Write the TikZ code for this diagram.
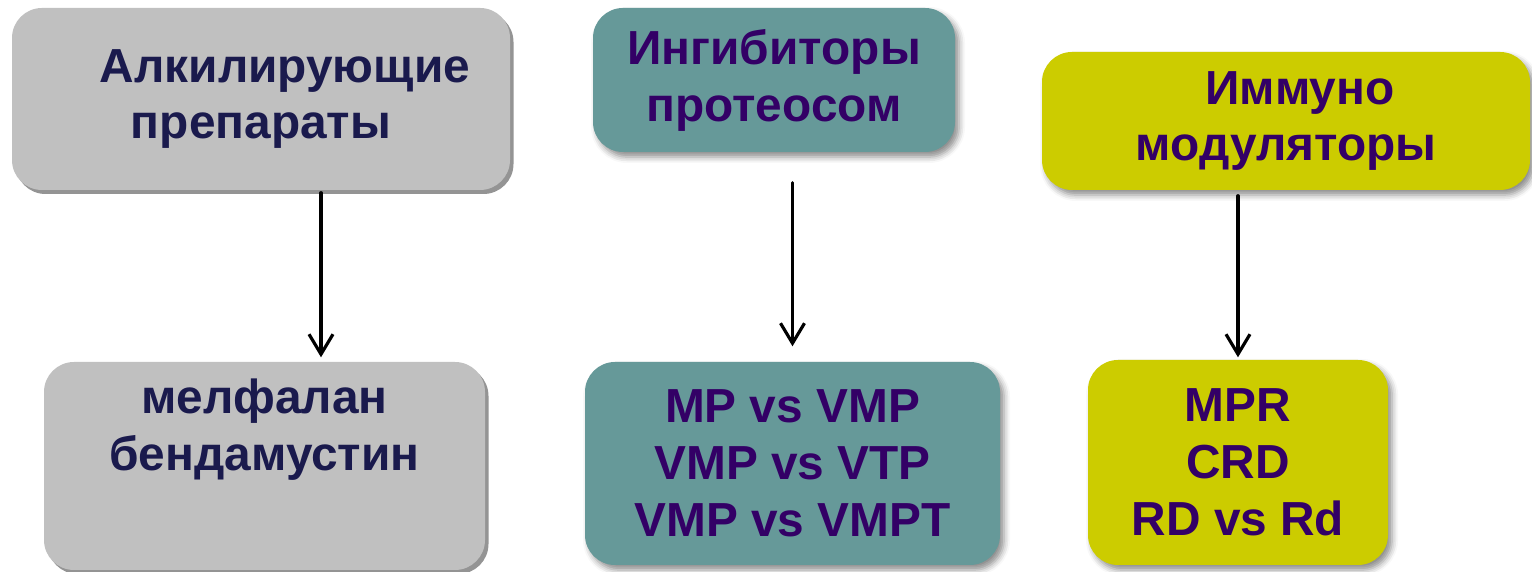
\documentclass[tikz,border=0pt]{standalone}
\usepackage{fontspec}
\setmainfont{Liberation Sans}
\usetikzlibrary{arrows.meta, shadows, shadows.blur, positioning, calc}
\definecolor{boxgray}{HTML}{C0C0C0}
\definecolor{boxteal}{HTML}{669999}
\definecolor{boxyellow}{HTML}{CCCC00}
\definecolor{navytext}{HTML}{1A1A4D}
\definecolor{purpletext}{HTML}{330066}

\begin{document}
\begin{tikzpicture}[line cap=round, line join=round,
    box/.style={rectangle, rounded corners=0.3cm, inner sep=0pt, align=center,
      font=\fontsize{13.6}{16.2}\selectfont\bfseries},
    graybox/.style={box, fill=boxgray, text=navytext,
      drop shadow={shadow xshift=0.035cm, shadow yshift=-0.04cm, fill=black!42, opacity=1}},
    tealbox/.style={box, fill=boxteal, text=purpletext,
      blur shadow={shadow xshift=0.04cm, shadow yshift=-0.05cm, shadow blur radius=0.06cm, shadow opacity=45}},
    yellowbox/.style={box, fill=boxyellow, text=purpletext,
      blur shadow={shadow xshift=0.04cm, shadow yshift=-0.05cm, shadow blur radius=0.06cm, shadow opacity=45}},
    arrow/.style={line width=0.9pt, -{Straight Barb[length=0.2cm, width=0.24cm]}}]
      \useasboundingbox (0,0) rectangle (15.32,5.72);

      % Верхний ряд: группы препаратов
      \node[graybox, minimum width=4.98cm, minimum height=1.82cm] (alk) at (2.61,4.73)
        {\hspace{0.48cm}Алкилирующие\\препараты};
      \node[tealbox, minimum width=3.62cm, minimum height=1.44cm] (ing) at (7.74,4.92)
        {Ингибиторы\\протеосом};
      \node[yellowbox, minimum width=4.88cm, minimum height=1.38cm] (imm) at (12.86,4.51)
        {\hspace{0.28cm}Иммуно\\модуляторы};

      % Нижний ряд: схемы
      \node[graybox, minimum width=4.41cm, minimum height=2.08cm] (mel) at (2.645,1.06) {};
      \node[box, text=navytext] (melt) at ([yshift=0.36cm]mel.center) {мелфалан\\бендамустин};
      \node[tealbox, minimum width=4.15cm, minimum height=2.03cm] (vmp) at (7.925,1.085)
        {MP vs VMP\\VMP vs VTP\\VMP vs VMPT};
      \node[yellowbox, minimum width=3.00cm, minimum height=2.05cm] (mpr) at (12.38,1.095)
        {MPR\\CRD\\RD vs Rd};

      % Стрелки
      \coordinate (a1) at (3.21,0);
      \draw[arrow, shorten <=0.02cm, shorten >=0.04cm] (alk.south -| a1) -- (mel.north -| a1);
      \draw[arrow, shorten <=0.30cm, shorten >=0.15cm] (ing.south -| vmp.north) -- (vmp.north);
      \draw[arrow, shorten <=0.05cm, shorten >=0.02cm] (imm.south -| mpr.north) -- (mpr.north);
    \end{tikzpicture}
\end{document}
